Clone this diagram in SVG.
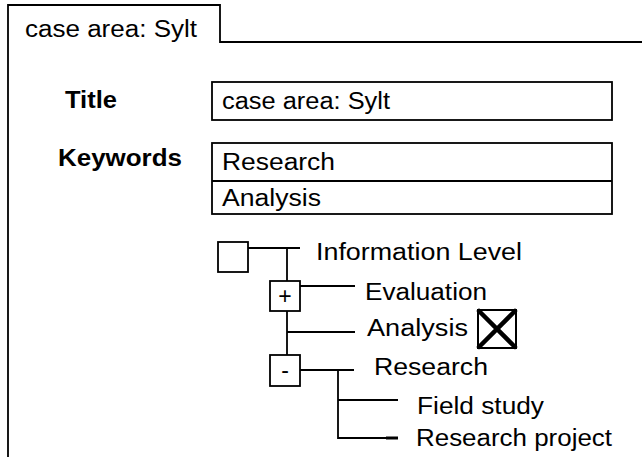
<svg xmlns="http://www.w3.org/2000/svg" width="642" height="457" viewBox="0 0 642 457">
<style>
.ln{fill:none;stroke:#000;stroke-width:1.8}
.bx{fill:#fff;stroke:#000;stroke-width:1.8}
.t{font-family:"Liberation Sans",Arial,sans-serif;font-size:23px;fill:#000}
.b{font-weight:bold}
</style>
<rect width="642" height="457" fill="#fff"/>
<g id="tab">
<path class="ln" d="M8,457 V5 H220 V42 H642"/>
<text class="t" x="25" y="37" textLength="172" lengthAdjust="spacingAndGlyphs">case area: Sylt</text>
</g>
<g id="title-field">
<text class="t b" x="65" y="108" textLength="52" lengthAdjust="spacingAndGlyphs">Title</text>
<rect class="bx" x="212" y="82" width="400" height="38"/>
<text class="t" x="222" y="109" textLength="168" lengthAdjust="spacingAndGlyphs">case area: Sylt</text>
</g>
<g id="keywords-field">
<text class="t b" x="58" y="166" textLength="124" lengthAdjust="spacingAndGlyphs">Keywords</text>
<rect class="bx" x="212" y="143" width="400" height="71"/>
<line class="ln" x1="212" y1="181" x2="612" y2="181"/>
<text class="t" x="222" y="170" textLength="113" lengthAdjust="spacingAndGlyphs">Research</text>
<text class="t" x="222" y="206" textLength="99" lengthAdjust="spacingAndGlyphs">Analysis</text>
</g>
<g id="connectors">
<path class="ln" d="M248,248 H300 M287,248 V281 M287,311 V355 M300,286 H355 M287,332 H355 M300,370 H354 M338,370 V438 H398 M338,400 H398"/>
<line x1="386" y1="438" x2="398" y2="438" stroke="#000" stroke-width="3"/>
</g>
<g id="root-node">
<rect class="bx" x="218" y="242" width="30" height="30"/>
<text class="t" x="316" y="260" textLength="206" lengthAdjust="spacingAndGlyphs">Information Level</text>
</g>
<g id="evaluation-node">
<rect class="bx" x="270" y="281" width="30" height="30"/>
<text class="t" x="285" y="304" text-anchor="middle" font-size="21">+</text>
<text class="t" x="365" y="300" textLength="122" lengthAdjust="spacingAndGlyphs">Evaluation</text>
</g>
<g id="analysis-node">
<text class="t" x="367" y="336" textLength="101" lengthAdjust="spacingAndGlyphs">Analysis</text>
<rect x="478" y="310" width="38" height="38" fill="#fff" stroke="#000" stroke-width="2"/>
<path d="M479,311 L515,347 M515,311 L479,347" stroke="#000" stroke-width="4.5" stroke-linecap="round"/>
</g>
<g id="research-node">
<rect class="bx" x="270" y="355" width="30" height="31"/>
<text class="t" x="285" y="378" text-anchor="middle" font-size="21">-</text>
<text class="t" x="374" y="375" textLength="114" lengthAdjust="spacingAndGlyphs">Research</text>
</g>
<g id="field-study-node">
<text class="t" x="417" y="414" textLength="127" lengthAdjust="spacingAndGlyphs">Field study</text>
</g>
<g id="research-project-node">
<text class="t" x="416" y="446" textLength="196" lengthAdjust="spacingAndGlyphs">Research project</text>
</g>
</svg>
